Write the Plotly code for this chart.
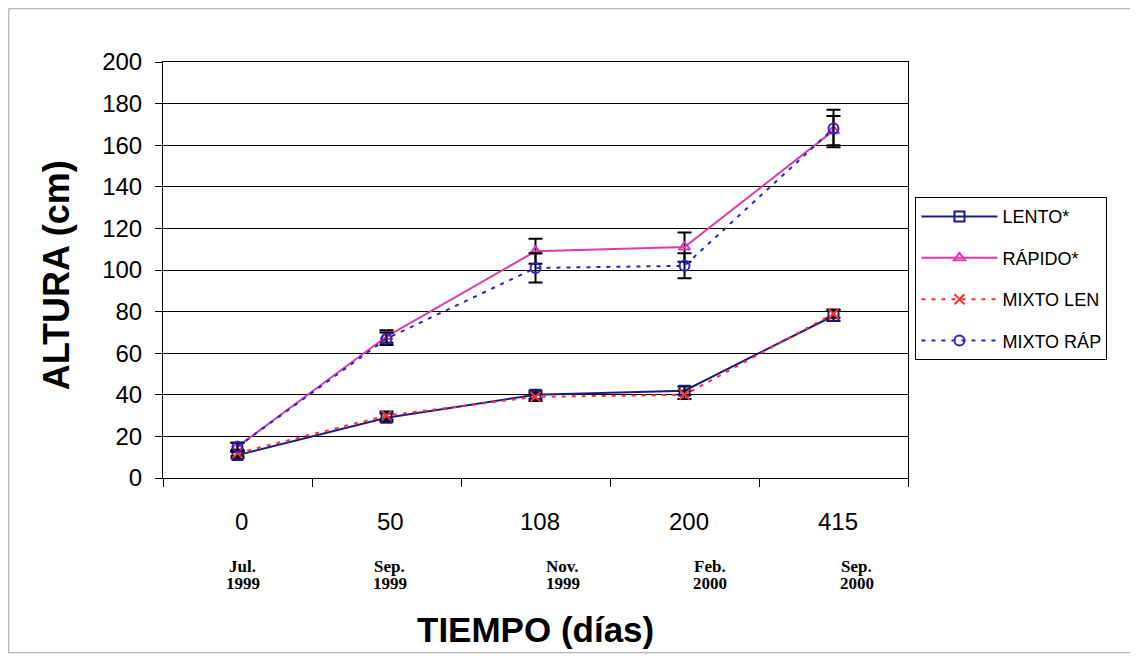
import plotly.graph_objects as go

categories = ["0", "50", "108", "200", "415"]
months = ["Jul.", "Sep.", "Nov.", "Feb.", "Sep."]
years = ["1999", "1999", "1999", "2000", "2000"]
date_shift = [5, 3, 27, 25, 23]

lento = [11, 29, 40, 42, 78]
lento_err = [1.5, 2, 2, 2, 2.5]
rapido = [15, 68, 109, 111, 167]
rapido_err = [2, 3, 6, 7, 7]
mixto_len = [12, 30, 39, 40, 79]
mixto_len_err = [1.5, 2, 2, 2, 2]
mixto_rap = [15, 67, 101, 102, 168]
mixto_rap_err = [2, 3, 7, 6, 9]

xpos = list(range(len(categories)))

fig = go.Figure()

def add(name, y, err, color, dash, symbol):
    fig.add_trace(go.Scatter(
        x=xpos, y=y, name=name, legendgroup=name, mode="lines+markers",
        line=dict(color=color, width=2, dash=dash),
        marker=dict(symbol=symbol, size=10, color=color,
                    line=dict(color=color, width=2)),
        error_y=dict(type="data", array=err, visible=True, color="black",
                     thickness=2, width=7),
    ))

add("LENTO*", lento, lento_err, "#1c1c84", "solid", "square-open")
add("RÁPIDO*", rapido, rapido_err, "#e03aa8", "solid", "triangle-up-open")
add("MIXTO LEN", mixto_len, mixto_len_err, "#ff3030", "4px,6px", "x-thin-open")
add("MIXTO RÁP", mixto_rap, mixto_rap_err, "#2424cc", "4px,6px", "circle-open")

for i, c in enumerate(categories):
    fig.add_annotation(x=i, xref="x", xshift=4, y=-0.1034, yref="paper",
                       yanchor="middle", text=c, showarrow=False,
                       font=dict(family="Liberation Sans", size=24, color="black"))
    fig.add_annotation(x=i, xref="x", xshift=date_shift[i], y=-0.212, yref="paper",
                       yanchor="middle", text="<b>" + months[i] + "</b>", showarrow=False,
                       font=dict(family="Liberation Serif", size=17, color="black"))
    fig.add_annotation(x=i, xref="x", xshift=date_shift[i], y=-0.254, yref="paper",
                       yanchor="middle", text="<b>" + years[i] + "</b>", showarrow=False,
                       font=dict(family="Liberation Serif", size=17, color="black"))

fig.add_annotation(x=0.5, xref="paper", y=-0.363, yref="paper", yanchor="middle",
                   text="<b>TIEMPO (días)</b>", showarrow=False,
                   font=dict(family="Liberation Sans", size=35, color="black"))
fig.add_annotation(x=-0.142, xref="paper", y=0.488, yref="paper",
                   xanchor="center", yanchor="middle", textangle=-90,
                   text="<b>ALTURA (cm)</b>", showarrow=False,
                   font=dict(family="Liberation Sans", size=36, color="black"))

fig.add_shape(type="rect", xref="paper", yref="paper",
              x0=-0.207, x1=1.305, y0=-0.42, y1=1.128,
              line=dict(color="#a0a0a0", width=1))

fig.update_layout(
    width=1130, height=650,
    margin=dict(l=155, r=230, t=54, b=180),
    paper_bgcolor="white", plot_bgcolor="white",
    font=dict(family="Liberation Sans", color="black"),
    showlegend=True,
    legend=dict(x=1.01, y=0.675, xanchor="left", yanchor="top",
                bordercolor="black", borderwidth=1,
                font=dict(size=18, family="Liberation Sans"),
                tracegroupgap=15, itemwidth=76),
    xaxis=dict(range=[-0.5, 4.5], tickvals=[-0.5, 0.5, 1.5, 2.5, 3.5, 4.5],
               ticktext=["", "", "", "", "", ""], ticks="outside",
               ticklen=8, tickcolor="black", showline=True, linecolor="black",
               linewidth=1, mirror=True, showgrid=False, zeroline=False),
    yaxis=dict(range=[0, 200], dtick=20, ticks="outside", ticklen=7,
               tickcolor="black", showline=True, linecolor="black",
               linewidth=1, mirror=True, showgrid=True, gridcolor="black",
               gridwidth=1, zeroline=False, ticklabelstandoff=8,
               tickfont=dict(size=24, family="Liberation Sans")),
)

fig.write_html("out.html")
